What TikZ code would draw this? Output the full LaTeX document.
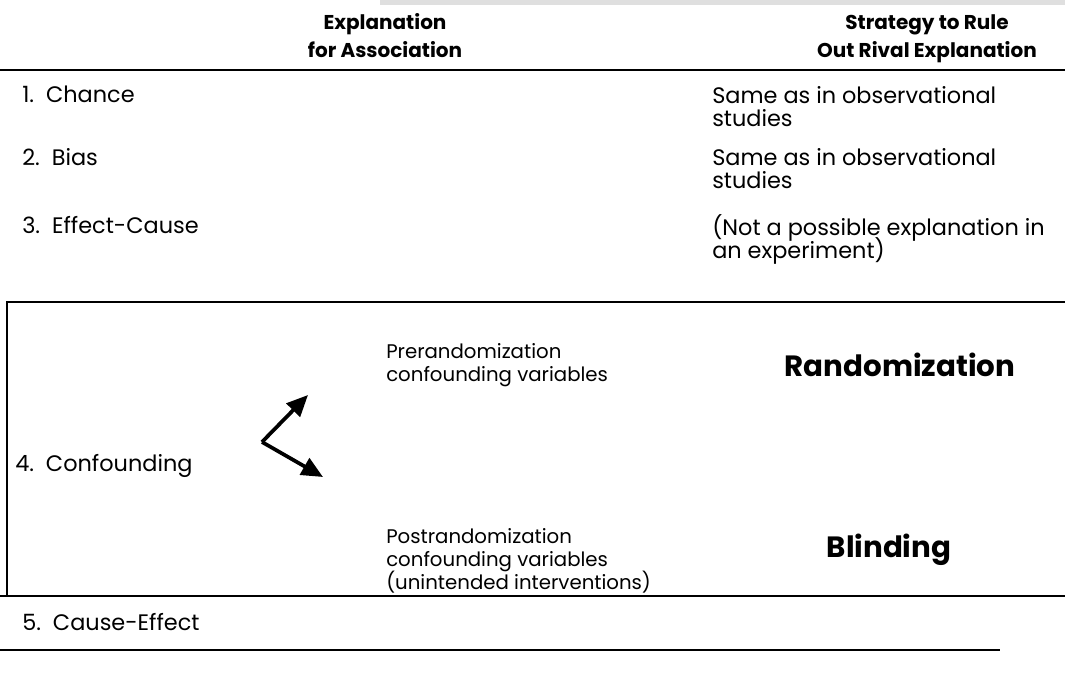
\documentclass[tikz,border=0pt]{standalone}
\usepackage{fontspec}
\setmainfont{Poppins}
\usetikzlibrary{arrows.meta}
\newcommand\tightls{\lineskiplimit=-20pt\relax}
\tikzset{
  body/.style={inner sep=0pt, align=left, font={\fontsize{16.8}{17.4}\selectfont\tightls}},
  mid/.style={inner sep=0pt, align=left, font={\fontsize{14.8}{17.4}\selectfont\tightls}},
  head/.style={inner sep=0pt, align=center, font=\bfseries\fontsize{15}{21}\selectfont},
  big/.style={inner sep=0pt, font=\bfseries\fontsize{22}{24}\selectfont},
  rule/.style={line width=1.4pt},
  thinrule/.style={line width=1pt},
  arr/.style={line width=2.8pt, -{Triangle[length=16pt,width=14pt]}}
}
\begin{document}
\begin{tikzpicture}[x=0.75pt,y=-0.75pt]
\useasboundingbox (0,0) rectangle (1065,673);
% scan band at top
\fill[gray!25] (380,0) rectangle (1065,5);
% headers
\node[head] (h1) at (385,36) {Explanation\\for Association};
\node[head] (h2) at (927,39) {Strategy to Rule\\Out Rival Explanation};
\coordinate (r0l) at (0,70); \coordinate (r0r) at (1065,70);
\draw[rule] (r0l) -- (r0r);
% rows 1-3
\node[body, anchor=north west] (c1) at (22,86) {1.\ \ Chance};
\node[body, anchor=north west] (s1) at (712,86) {Same as in observational\\studies};
\node[body, anchor=north west] (c2) at (22,148) {2.\ \ Bias};
\node[body, anchor=north west] (s2) at (712,148) {Same as in observational\\studies};
\node[body, anchor=north west] (c3) at (22,216) {3.\ \ Effect-Cause};
\node[body, anchor=north west] (s3) at (712,214) {(Not a possible explanation in\\an experiment)};
% confounding box
\coordinate (bTL) at (7,302); \coordinate (bTR) at (1065,302);
\coordinate (bBL) at (7,596); \coordinate (bBR) at (1065,596);
\coordinate (bB0) at (0,596);
\draw[thinrule] (bTR) -- (bTL) -- (bBL);
\draw[rule] (bB0) -- (bBR);
\node[body, anchor=west] (c4) at (15,466) {4.\ \ Confounding};
\node[mid, anchor=north west] (pre) at (386,343) {Prerandomization\\confounding variables};
\node[mid, anchor=north west] (post) at (386,528) {Postrandomization\\confounding variables\\(unintended interventions)};
\node[big] (rand) at (900,365) {Randomization};
\node[big] (blind) at (889,550) {Blinding};
\coordinate (fork) at (262,442);
\coordinate (up) at (308,395);
\coordinate (down) at (323,477);
\draw[arr] (fork) -- (up);
\draw[arr] (fork) -- (down);
% row 5
\node[body, anchor=north west] (c5) at (22,613) {5.\ \ Cause-Effect};
\coordinate (r5l) at (0,650); \coordinate (r5r) at (1000,650);
\draw[rule] (r5l) -- (r5r);
\end{tikzpicture}
\end{document}
